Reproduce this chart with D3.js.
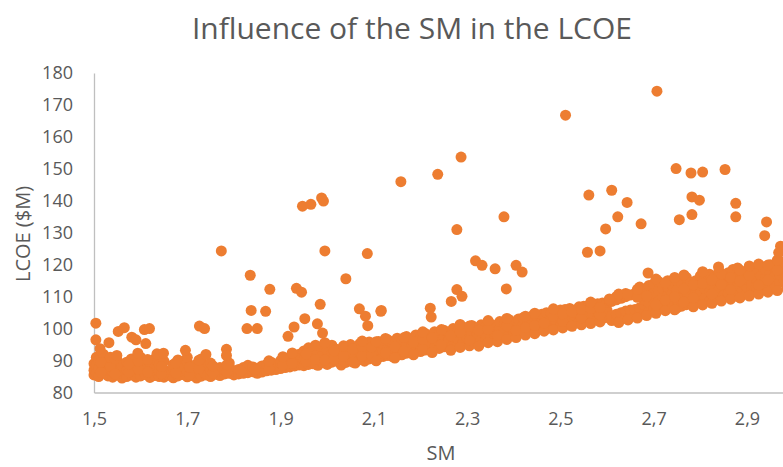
<!DOCTYPE html>
<html>
<head>
<meta charset="utf-8">
<script src="https://cdn.jsdelivr.net/npm/d3@7"></script>
<style>
  html, body { margin: 0; padding: 0; background: #ffffff; }
  svg { display: block; }
  text { font-family: "Open Sans", sans-serif; fill: #595959; }
</style>
</head>
<body>
<svg id="chart" width="783" height="467"></svg>
<script>
// ---- data ----
const chartTitle = "Influence of the SM in the LCOE";
const xTitle = "SM";
const yTitle = "LCOE ($M)";
const xTicks = [1.5, 1.7, 1.9, 2.1, 2.3, 2.5, 2.7, 2.9];
const yTicks = [80, 90, 100, 110, 120, 130, 140, 150, 160, 170, 180];

// main band: [SM, [LCOE values at that SM]]
const bandColumns = [
  [1.500, [85.5, 87, 89]], [1.505, [86, 88.5, 91]], [1.51, [85, 87.5, 90]],
  [1.52, [86, 88, 92]], [1.53, [85.2, 87, 89.5]], [1.54, [84.8, 86.5, 88.5]],
  [1.55, [85.5, 87.5, 90]], [1.56, [84.5, 86, 88.5]], [1.57, [85, 87, 89.5]],
  [1.58, [85.5, 88, 90.5]], [1.59, [84.8, 86.5, 89]], [1.60, [85.2, 87.5, 91]],
  [1.61, [85.6, 88]], [1.62, [84.7, 86.5, 89.5]], [1.63, [85.3, 87.8, 90.5]],
  [1.64, [85, 86.8, 88.8]], [1.65, [84.8, 87.2, 89.8]], [1.66, [85.4, 86.2]],
  [1.67, [84.6, 87.5, 88.8]], [1.68, [85.2, 86.8, 90.2]], [1.69, [85.6, 88.2]],
  [1.70, [84.9, 86.5, 89.5, 91]], [1.71, [85.3, 87.6]], [1.72, [84.5, 86.2, 88.9]],
  [1.73, [85.1, 87.2, 90.5]], [1.74, [85.5, 86, 88.4]], [1.75, [85, 87, 89.2]],
  [1.76, [85.7, 86.5]], [1.77, [85.3, 87.8]], [1.78, [85.8, 87]],
  [1.79, [86, 88, 89.2]], [1.80, [85.5, 86.8]], [1.81, [85.8, 87.2]],
  [1.82, [86, 87.8]], [1.83, [86.2, 87.5, 88.5]], [1.84, [86.5, 88]],
  [1.85, [86, 87.6]], [1.86, [86.4, 88.3]], [1.87, [86.8, 88.8]],
  [1.88, [87, 89.5]], [1.89, [87.2, 88.6]], [1.90, [87.5, 89.2, 90]],
  [1.91, [87.8, 89.5]], [1.92, [88, 88.5, 90.2]], [1.93, [88.3, 90.5, 91.5]],
  [1.94, [88.6, 91, 92]], [1.95, [88.4, 90.3, 93]], [1.96, [88.8, 91.2, 94]],
  [1.97, [89, 92, 93.5]], [1.98, [88.5, 90.5, 92.8]], [1.99, [89.3, 91.5, 94.5]],
  [2.00, [88.8, 91, 93.2]], [2.01, [89.5, 92, 94.8]], [2.02, [89.8, 91.5, 93.5]],
  [2.03, [88.6, 90.5, 92.8]], [2.04, [89.4, 91.8, 94.2]], [2.05, [90, 92.5, 95]],
  [2.06, [89.2, 91.2, 93.8]], [2.07, [90.3, 92.6, 95.3]], [2.08, [89.8, 91.8, 94]],
  [2.09, [90.5, 93, 95.8]], [2.10, [90.8, 92.2, 94.6]], [2.11, [91, 93.5, 96]],
  [2.12, [91.3, 93, 95.2]], [2.13, [91.6, 94, 96.5]], [2.14, [91.2, 93.2, 95.5]],
  [2.15, [92, 94.5, 97]], [2.16, [91.8, 93.8, 96.2]], [2.17, [92.3, 95, 97.5]],
  [2.18, [92.6, 94.2, 96.8]], [2.19, [93, 95.5, 98]], [2.20, [92.8, 94.8, 97.2]],
  [2.21, [93.3, 96, 98.5]], [2.22, [93.5, 95.2, 97.8]], [2.23, [94, 96.5, 99]],
  [2.24, [93.8, 95.8, 98.2]], [2.25, [94.3, 97, 99.5]], [2.26, [94.6, 96.2, 98.8]],
  [2.27, [95, 97.5, 100]], [2.28, [94.8, 96.8, 99.2]], [2.29, [95.3, 98, 100.5]],
  [2.30, [95.5, 97.2, 99.8]], [2.31, [96, 98.5, 101]], [2.32, [95.8, 97.8, 100.2]],
  [2.33, [96.3, 99, 101.2]], [2.34, [96.6, 98.2, 100.6]], [2.35, [97, 99.5, 101.5]],
  [2.36, [96.8, 98.8, 101]], [2.37, [97.3, 100, 102.2]], [2.38, [97.5, 99.2, 101.6]],
  [2.39, [98, 100.5, 102.8]], [2.40, [98.3, 100, 102]], [2.41, [98.6, 100.8, 103]],
  [2.42, [99, 101.2, 103.4]], [2.43, [99.2, 101.8]], [2.44, [99.6, 102.2, 104]],
  [2.45, [99.8, 101.5, 103.8]], [2.46, [100.2, 102.6, 104.5]], [2.47, [100, 102, 105]],
  [2.48, [100.5, 103, 104.8]], [2.49, [100.8, 102.5, 105.5]], [2.50, [101, 103.4, 105.8]],
  [2.51, [101.3, 103, 106]], [2.52, [101.5, 103.8, 106.3]], [2.53, [101.8, 104.2]],
  [2.54, [102, 104.5, 106.8]], [2.55, [102.3, 104, 107]], [2.56, [102.5, 105, 107.2]],
  [2.57, [102.8, 104.6, 107.5]], [2.58, [103, 105.4, 107.8]], [2.59, [103.2, 105, 108]],
  [2.60, [103.5, 105.8, 108.2]], [2.61, [102.5, 104, 108.5]], [2.62, [102.8, 104.5, 109, 110]],
  [2.63, [103, 105, 109.5]], [2.64, [103.5, 105.5, 110, 111]], [2.65, [103.8, 105.8, 110.5]],
  [2.66, [104, 106, 111]], [2.67, [104.5, 106.5, 111.5, 113]], [2.68, [105, 107.5, 109, 112]],
  [2.69, [105.5, 108, 110.5, 113.5]], [2.70, [106, 109, 111, 114]], [2.71, [106.5, 108.5, 112, 114.8]],
  [2.72, [107, 110, 112.5]], [2.73, [107.5, 110.5, 113, 115]], [2.74, [108, 111, 113.5]],
  [2.75, [106.5, 109, 112, 115]], [2.76, [107, 110, 114]], [2.77, [107.5, 111.5, 113, 116]],
  [2.78, [108, 110.5, 114.5]], [2.79, [108.5, 112, 115]], [2.80, [109, 111, 113.5, 116.5]],
  [2.81, [109.5, 112.5, 115.5]], [2.82, [108.5, 111.5, 114, 117]], [2.83, [109, 113, 116]],
  [2.84, [110, 112, 115, 118]], [2.85, [110.5, 113.5, 116.5]], [2.86, [111, 114, 117.5]],
  [2.87, [110, 112.5, 115, 118.5]], [2.88, [111.5, 113.5, 116, 119]], [2.89, [112, 114.5, 117]],
  [2.90, [111, 113, 115.5, 118]], [2.91, [112.5, 114, 117, 119]], [2.92, [113, 115.5, 118]],
  [2.93, [112, 114.5, 116.5, 119.5]], [2.94, [113.5, 116, 118.5]], [2.95, [114, 115, 117.5, 120]],
  [2.96, [113, 116.5, 119]], [2.97, [114.5, 117, 120.5]], [2.98, [115, 118, 121]]
];

// more band points read between the columns above: [SM, [LCOE values]]
const bandExtraColumns = [
  [1.515, [86.3, 89.4]], [1.535, [88.2, 91]], [1.545, [85.8, 90.6]], [1.575, [86.4, 88.9]],
  [1.595, [87.3, 89.8]], [1.615, [86.4, 90.3]], [1.645, [85.9, 88.1]], [1.675, [86.1, 89.3]],
  [1.705, [85.6, 87.9]], [1.725, [87.5, 90.1]], [1.755, [86.1, 88.3]], [1.785, [86.4, 88.7]],
  [1.815, [86.7]], [1.845, [87.2]], [1.875, [87.5, 89.9]], [1.905, [88.6, 91.2]],
  [1.925, [89.1, 92.4]], [1.955, [89.7, 92.1]], [1.975, [90.3, 94.8]], [1.995, [90.2, 95.6]],
  [2.015, [90.4, 93]], [2.035, [91.4, 94.6]], [2.055, [89.5, 93.6]], [2.075, [91.5, 94.4, 96.1]],
  [2.095, [91.7, 94.1]], [2.105, [89.9, 95.9]], [2.125, [92.4, 96.9]], [2.145, [90.8, 94.3]],
  [2.165, [92.9, 97.2]], [2.185, [91.8, 95.8]], [2.205, [93.6, 96.6, 99]], [2.225, [92.5, 97.1]],
  [2.245, [94.9, 99.7]], [2.265, [93.2, 97.8]], [2.285, [94.1, 98.9, 101.3]], [2.305, [94.6, 96.3, 100.8]],
  [2.325, [94.5, 99.5]], [2.345, [95.6, 99.8, 102.5]], [2.365, [95.9, 97.9]], [2.385, [96.6, 100.9, 103.2]],
  [2.405, [97.2, 99.4]], [2.425, [98, 100.3, 103.9]], [2.445, [98.4, 101, 104.8]], [2.465, [99.2, 101.7]],
  [2.485, [99.6, 103.9, 106.2]], [2.505, [100.2, 102.3, 104.6]], [2.525, [100.7, 105.2]], [2.545, [101.2, 103.3, 106]],
  [2.565, [101.6, 106.3, 108.3]], [2.585, [102.1, 104.2, 106.6]], [2.605, [108.9, 109.3]], [2.625, [101.9, 110.8]],
  [2.645, [102.7, 110.6]], [2.665, [103.3, 109.8, 112.3]], [2.685, [104.1, 110.2]], [2.705, [104.8, 107.4, 115.5]],
  [2.725, [105.6, 108.9, 114.3]], [2.745, [105.9, 109.9, 116]], [2.765, [108.3, 112.4, 116.8]], [2.785, [106.8, 109.6, 113.7]],
  [2.805, [107.4, 114.1, 117.8]], [2.825, [107.9, 110.8, 115.2]], [2.845, [108.6, 113.8, 117.1]], [2.865, [109.2, 112.2, 116]],
  [2.885, [109.6, 114.9, 118.3]], [2.905, [110.2, 116.6, 119.6]], [2.925, [110.8, 113.6, 120.2]], [2.945, [111.4, 115.2, 119.9]],
  [2.965, [111.9, 118.3, 121.4]], [2.985, [112.6, 116.1, 120]]
];

// scattered points above the band: [SM, LCOE]
const outlierPoints = [
  [2.707, 174.3], [2.511, 166.8], [2.287, 153.7], [2.237, 148.3], [2.158, 146.0],
  [2.748, 150.1], [2.780, 148.7], [2.805, 149.0], [2.853, 149.8], [2.561, 141.8],
  [2.610, 143.3], [2.643, 139.5], [2.782, 141.2], [2.798, 140.2], [2.876, 139.2],
  [2.623, 135.0], [2.379, 135.0], [2.755, 134.1], [2.782, 135.7], [2.876, 135.0],
  [2.942, 133.4], [2.673, 132.8], [2.597, 131.2], [2.278, 131.0], [2.938, 129.1],
  [2.972, 125.8], [2.968, 123.8], [2.558, 123.9], [2.585, 124.3], [2.318, 121.2],
  [2.332, 119.8], [2.360, 118.7], [2.405, 119.8], [2.418, 117.7], [2.384, 112.4],
  [2.278, 112.2], [2.289, 110.1], [2.266, 108.5], [2.221, 106.4], [2.223, 103.6],
  [2.116, 105.7], [2.688, 117.4], [2.839, 119.3],
  [1.947, 138.3], [1.965, 138.9], [1.988, 140.9], [1.992, 139.9], [1.773, 124.3],
  [1.995, 124.3], [2.086, 123.5], [1.835, 116.7], [2.040, 115.6], [1.877, 112.3],
  [1.934, 112.6], [1.945, 111.4], [1.985, 107.6], [2.069, 106.2], [2.082, 103.9],
  [2.087, 100.9], [2.115, 105.4], [1.837, 105.7], [1.868, 105.4], [1.828, 100.0],
  [1.850, 100.0], [1.726, 100.8], [1.737, 100.0], [1.952, 103.1], [1.929, 100.5],
  [1.916, 97.6], [1.979, 101.5], [1.990, 98.6], [1.504, 101.7], [1.504, 96.5],
  [1.552, 99.1], [1.565, 100.3], [1.532, 95.6], [1.581, 97.3], [1.590, 96.5],
  [1.608, 99.7], [1.619, 100.0], [1.611, 95.3], [1.594, 92.3], [1.549, 91.6],
  [1.513, 93.7], [1.635, 92.1], [1.649, 92.3], [1.696, 93.2], [1.784, 93.5],
  [1.784, 91.6], [1.740, 91.9]
];

// ---- drawing ----
const svg = d3.select("#chart");
const color = "#ED7D31";
const axisColor = "#BFBFBF";

const x = d3.scaleLinear().domain([1.5, 3.0]).range([94, 793.6]);
const y = d3.scaleLinear().domain([80, 180]).range([392.5, 73]);

const locale = d3.formatLocale({ decimal: ",", thousands: ".", grouping: [3], currency: ["", ""] });
const fmtX = locale.format(".1f");

// axes
const xAxis = svg.append("g")
  .attr("transform", `translate(0,${y(80)})`)
  .call(d3.axisBottom(x).tickValues(xTicks).tickFormat(fmtX).tickSize(0).tickPadding(20));
xAxis.select(".domain").attr("stroke", axisColor).attr("stroke-width", 1.3);
xAxis.selectAll("text").attr("font-size", 18).attr("fill", "#595959")
  .attr("font-family", "'Open Sans', sans-serif");

const yAxis = svg.append("g")
  .attr("transform", `translate(${x(1.5)},0)`)
  .call(d3.axisLeft(y).tickValues(yTicks).tickSize(0).tickPadding(21));
yAxis.select(".domain").attr("stroke", axisColor).attr("stroke-width", 1.3);
yAxis.selectAll("text").attr("font-size", 18).attr("fill", "#595959")
  .attr("font-family", "'Open Sans', sans-serif");

// points
const toPoints = cols => cols.flatMap(([sm, vals]) => vals.map(v => [sm, v]));
const allPoints = toPoints(bandColumns).concat(toPoints(bandExtraColumns), outlierPoints);

svg.append("g")
  .selectAll("circle")
  .data(allPoints)
  .join("circle")
  .attr("cx", d => x(d[0]))
  .attr("cy", d => y(d[1]))
  .attr("r", 5.5)
  .attr("fill", color);

// titles
svg.append("text")
  .attr("x", 412).attr("y", 39)
  .attr("text-anchor", "middle")
  .attr("font-size", 30)
  .text(chartTitle);

svg.append("text")
  .attr("x", 441).attr("y", 460)
  .attr("text-anchor", "middle")
  .attr("font-size", 20)
  .text(xTitle);

svg.append("text")
  .attr("transform", `translate(30,234) rotate(-90)`)
  .attr("text-anchor", "middle")
  .attr("font-size", 20)
  .text(yTitle);
</script>
</body>
</html>
